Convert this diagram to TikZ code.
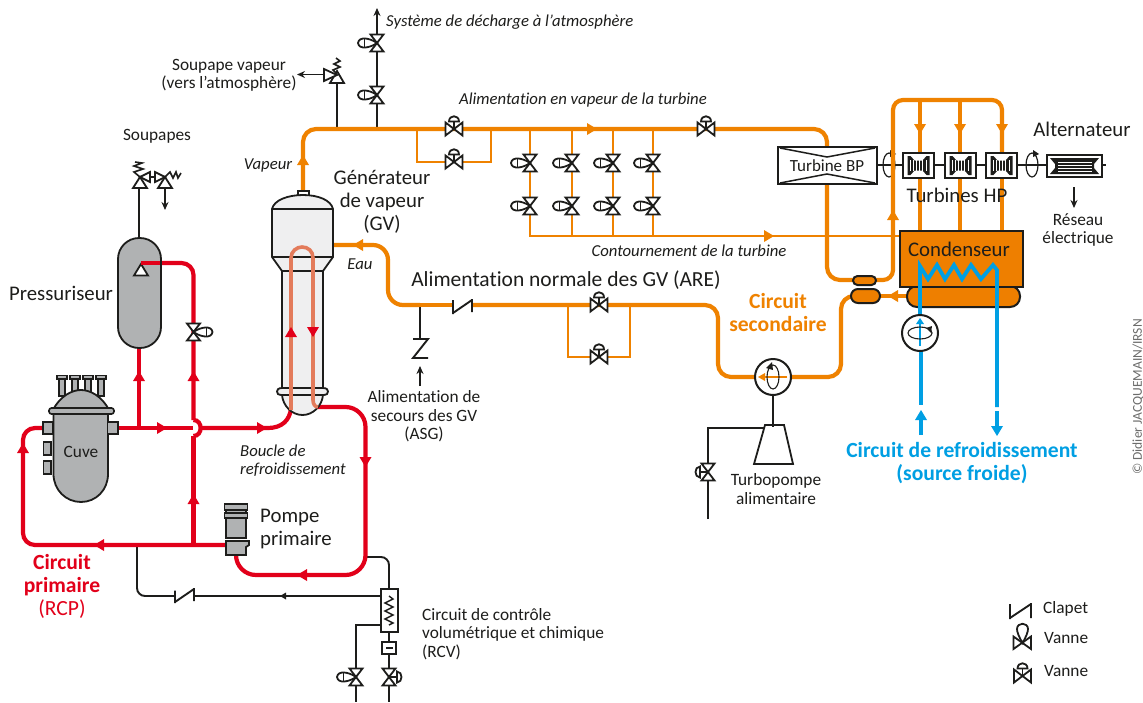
\documentclass[tikz,border=0pt]{standalone}
\usepackage{fontspec}
\setmainfont[Ligatures=NoCommon]{Carlito}
\usetikzlibrary{arrows.meta}
\definecolor{rouge}{HTML}{E2001A}
\definecolor{orangec}{HTML}{EF8200}
\definecolor{orangef}{HTML}{EE7F00}
\definecolor{bleu}{HTML}{009FE3}
\definecolor{gris}{HTML}{B0B2B3}
\definecolor{grisc}{HTML}{EFEFF0}
\definecolor{saumon}{HTML}{E37B5B}
\definecolor{encre}{HTML}{1D1D1B}
\newcommand\aup[3]{\fill[#3] (#1-6,#2+5)--(#1,#2-5)--(#1+6,#2+5)--cycle;}
\newcommand\adn[3]{\fill[#3] (#1-6,#2-5)--(#1,#2+5)--(#1+6,#2-5)--cycle;}
\newcommand\alf[3]{\fill[#3] (#1+5,#2-6)--(#1-5,#2)--(#1+5,#2+6)--cycle;}
\newcommand\art[3]{\fill[#3] (#1-5,#2-6)--(#1+5,#2)--(#1-5,#2+6)--cycle;}
\tikzset{
  x=1pt,y=-1pt,
  sym/.style={draw=encre,line width=1.8pt,fill=white,line join=miter},
  tubeo/.style={draw=orangec,line width=4.2pt,rounded corners=10pt},
  tubeof/.style={draw=orangec,line width=2.2pt},
  tuber/.style={draw=rouge,line width=4.2pt,rounded corners=12pt},
  tubeb/.style={draw=bleu,line width=4.2pt},
  tuben/.style={draw=encre,line width=1.9pt,rounded corners=8pt},
  petit/.style={font=\fontsize{17.3}{18.5}\selectfont,text=encre,align=center,inner sep=0pt},
  petiti/.style={font=\itshape\fontsize{16.7}{18.5}\selectfont,text=encre,align=left,inner sep=0pt},
  grand/.style={font=\fontsize{20.8}{23}\selectfont,text=encre,align=center,inner sep=0pt},
  gras/.style={font=\bfseries\fontsize{21.6}{23}\selectfont,align=center,inner sep=0pt},
  vdome/.pic={
    \path[sym] (-8.5,-6.5)--(8.5,6.5)--(8.5,-6.5)--(-8.5,6.5)--cycle;
    \path[sym] (0,0)--(0,-7);
    \path[sym] (-5,-7.5)..controls (-5,-14.5) and (5,-14.5)..(5,-7.5)--cycle;
  },
  vpoig/.pic={
    \path[sym] (-6.5,-8.5)--(6.5,-8.5)--(-6.5,8.5)--(6.5,8.5)--cycle;
    \path[sym] (0,0)..controls (-7,-5) and (-18,-7)..(-19,0)..controls (-18,7) and (-7,5)..(0,0)--cycle;
    \draw[encre,line width=1pt] (-13,-4)--(-13,4);
  },
  vpoigd/.pic={
    \path[sym] (-6.5,-8.5)--(6.5,-8.5)--(-6.5,8.5)--(6.5,8.5)--cycle;
    \path[sym] (0,0)--(7,0);
    \path[sym] (8,-5.5)..controls (14,-5.5) and (14,5.5)..(8,5.5)--cycle;
  },
  vpoigc/.pic={
    \path[sym] (-6.5,-8.5)--(6.5,-8.5)--(-6.5,8.5)--(6.5,8.5)--cycle;
    \path[sym] (0,0)--(-7,0);
    \path[sym] (-8,-5.5)..controls (-14,-5.5) and (-14,5.5)..(-8,5.5)--cycle;
  },
  hpt/.pic={
    \draw[fill=white,draw=encre,line width=2.4pt] (-15.5,-12.5) rectangle (15.5,12.5);
    \fill[encre] (-11,-9.5)--(-8,-9.5)--(-4,-5)--(4,-5)--(8,-9.5)--(11,-9.5)--(11,9.5)--(8,9.5)--(4,5)--(-4,5)--(-8,9.5)--(-11,9.5)--cycle;
    \foreach \xx in {-8.5,-5,-2,1,4,7.5} \draw[white,line width=.8pt] (\xx,-5.5)--(\xx,5.5);
  },
  rotv/.pic={
    \draw[encre,line width=1.2pt] (0,0) ellipse [x radius=6,y radius=12];
    \fill[encre] (1,-15)--(7,-11)--(1,-8)--cycle;
  }
}
\begin{document}
\begin{tikzpicture}
\useasboundingbox (0,0) rectangle (1143,702);
\fill[white] (0,0) rectangle (1143,702);

\coordinate (gvtop) at (303,191);
\coordinate (gveau) at (333,245);
\coordinate (tbpT) at (827,147);
\coordinate (tbpB) at (827,184);
\coordinate (ech1L) at (853,280);
\coordinate (ech1R) at (876,280);
\coordinate (ech2L) at (851,296);
\coordinate (ech2R) at (880,296);
\coordinate (hotw) at (907,296);
\coordinate (ppL) at (755,377);
\coordinate (ppR) at (791,377);
\coordinate (pzrB) at (139,348);
\coordinate (cuveR) at (118,428);
\coordinate (cuveL) at (43,428);
\coordinate (pompeL) at (226,545);
\coordinate (pompeB) at (236,556);

% thin black lines
\draw[tuben] (137,545)--(137,596)--(175,596);
\draw[tuben,rounded corners=0] (194,596)--(381,596);
\fill[encre] (280,596)--(286,592.5)--(286,599.5)--cycle;
\draw[tuben] (367,557)--(389,557)--(389,589);
\draw[tuben,rounded corners=0] (381,625)--(356,625)--(356,702);
\draw[tuben,rounded corners=0] (389,632)--(389,702);
\draw[tuben,rounded corners=0] (139,238)--(139,180);
\draw[tuben,rounded corners=0] (337,129)--(337,80);
\draw[tuben,rounded corners=0] (377,129)--(377,14);
\draw[encre,line width=1.9pt,-{Stealth[length=8pt,width=7pt]}] (377,30)--(377,8);
\draw[tuben,rounded corners=0] (420,305)--(420,339);
\draw[encre,line width=1.9pt,-{Stealth[length=8pt,width=7pt]}] (420,386)--(420,366);
\draw[tuben,rounded corners=0] (708,519)--(708,428)--(765,428);

% shaft and rotation symbol left of the HP turbines, under the pipe
\draw[encre,line width=1.9pt] (877,165)--(903,165);
\pic at (889,165) {rotv};

% orange thin
\draw[tubeof] (417,129)--(417,162)--(491,162)--(491,129);
\draw[tubeof] (568,305)--(568,357)--(630,357)--(630,305);
\draw[tubeof] (530,129)--(530,236)--(900,236);
\draw[tubeof] (572,129)--(572,236);
\draw[tubeof] (613,129)--(613,236);
\draw[tubeof] (653,129)--(653,236);
\art{769}{236}{orangec}

% orange main
\draw[tubeo,rounded corners=13pt] (gvtop)--(303,129)--(827,129)--(tbpT);
\draw[tubeo,rounded corners=13pt] (tbpB)--(827,280)--(ech1L);
\draw[tubeo] (ech1R)--(893,280)--(893,100)--(1002,100)--(1002,155);
\draw[tubeo,rounded corners=0] (920,100)--(920,155);
\draw[tubeo,rounded corners=0] (960,100)--(960,155);
\draw[tubeo,rounded corners=0] (920,176)--(920,232);
\draw[tubeo,rounded corners=0] (960,176)--(960,232);
\draw[tubeo,rounded corners=0] (1002,176)--(1002,232);
\adn{920}{129}{orangec}\adn{960}{129}{orangec}\adn{1002}{129}{orangec}
\aup{893}{215}{orangec}
\aup{303}{160}{orangec}
\art{592}{129}{orangec}
\draw[tubeo,rounded corners=0] (hotw)--(ech2R);
\alf{893}{296}{orangec}
\draw[tubeo,rounded corners=13pt] (ech2L)--(841,296)--(841,377)--(ppR);
\draw[tubeo,rounded corners=13pt] (ppL)--(718,377)--(718,305)--(472,305);
\draw[tubeo,rounded corners=0] (453,305)--(420,305);
\draw[tubeo,rounded corners=15pt] (420,305)--(388,305)--(388,245)--(gveau);
\alf{358}{245}{orangec}

% red
\draw[tuber] (cuveL)--(23,428)--(23,545)--(pompeL);
\draw[tuber,rounded corners=0] (cuveR)--(193,428);
\draw[tuber,rounded corners=0] (pzrB)--(139,428);
\draw[tuber,rounded corners=0] (193.5,545)--(193.5,436);
\draw[rouge,line width=4.2pt] (193.5,420) .. controls (203,420) and (203,436) .. (193.5,436);
\draw[tuber] (141,263)--(193.5,263)--(193.5,420);
\draw[rouge,line width=4.2pt] (199,428)--(268,428) .. controls (282,428) and (290,420) .. (291,408);
\draw[tuber,rounded corners=20pt] (316,407)--(365.5,407)--(365.5,575)--(236,575)--(pompeB);
\aup{139}{376}{rouge}\aup{193.5}{376}{rouge}
\aup{23}{448}{rouge}\aup{193.5}{499}{rouge}
\art{162}{428}{rouge}\art{262}{428}{rouge}
\adn{365.5}{462}{rouge}
\alf{99}{545}{rouge}\alf{302}{575}{rouge}

% steam generator
\path[sym] (298,195)--(298,191)--(309,191)--(309,195);
\path[draw=encre,line width=1.8pt,fill=grisc] (272,209)..controls (274,200) and (288,195)..(303,195)..controls (318,195) and (331,200)..(333,209)--(333,257)--(323,271)--(323,388)..controls (327,388) and (328,390)..(328,391.5)..controls (328,393.5) and (327,395)..(323,395)..controls (322,406) and (313,415)..(302.5,415)..controls (292,415) and (283,406)..(282,395)..controls (278,395) and (277,393.5)..(277,391.5)..controls (277,390) and (278,388)..(282,388)--(282,271)--(272,257)--cycle;
\draw[encre,line width=1.8pt] (272,209)--(333,209) (272,257)--(333,257) (282,271)--(323,271) (282,388)--(323,388) (282,395)--(323,395);
\draw[saumon,line width=3.6pt] (291,410)--(291,258)..controls (291,251) and (297,247)..(302,247)..controls (308,247) and (313,251)..(313,258)--(313,400)..controls (313,404) and (315,407)..(318,407);
\aup{291}{332}{rouge}\adn{313}{332}{rouge}

% pressuriser
\node[draw=encre,line width=1.8pt,fill=gris,minimum width=43pt,minimum height=110pt,rounded corners=21pt,inner sep=0] (pzr) at (139.5,293) {};
\path[sym] (141,264)--(134,275.5)--(148,275.5)--cycle;
\draw[rouge,line width=4.2pt,line cap=butt] (141,263)--(160,263);
\pic[xscale=-1] at (193.5,332) {vpoig};

% vessel
\foreach \xx in {62,75,88,101} {
  \draw[draw=encre,line width=1.6pt,fill=gris] (\xx-3,378) rectangle (\xx+3,396);
  \draw[draw=encre,line width=1.6pt,fill=gris] (\xx-5,375.5) rectangle (\xx+5,379);
}
\path[draw=encre,line width=1.8pt,fill=gris] (53,410)..controls (60,396) and (72,390)..(81,390)..controls (90,390) and (102,396)..(109,410)--cycle;
\path[draw=encre,line width=1.8pt,fill=gris] (53.5,411)--(53.5,474)..controls (53.5,490) and (66,502)..(81,502)..controls (96,502) and (108,490)..(108,474)--(108,411)--cycle;
\draw[draw=encre,line width=1.6pt,fill=gris,rounded corners=2.5pt] (49,408) rectangle (114,414);
\draw[sym,fill=gris] (43,422) rectangle (53,434);
\draw[sym,fill=gris] (107.5,422) rectangle (118,434);
\draw[sym,fill=gris] (43.5,442) rectangle (51,455);
\draw[sym,fill=gris] (43.5,461) rectangle (51,474);

% primary pump
\draw[sym,fill=gris] (226,510) rectangle (246,538);
\draw[sym,fill=gris] (224.5,504) rectangle (247.5,510);
\draw[sym,fill=gris] (224.5,513) rectangle (247.5,518);
\path[sym,fill=gris] (226,541)--(249,541)--(249,545)--(246,547)--(246,555)--(226,555)--cycle;

% RCV exchanger
\draw[sym] (381,589) rectangle (398,632);
\draw[encre,line width=1.4pt] (389,596)--(393,599)--(385,603)--(393,607)--(385,611)--(393,615)--(385,619)--(393,623)--(389,625);
\draw[sym] (382,642) rectangle (396,654);
\fill[encre] (385.5,647) rectangle (392.5,649);
\pic at (356,677) {vpoig};
\pic at (389,677) {vpoigd};

% check valves
\draw[encre,line width=1.9pt] (175,603)--(175,590.5)  (175,602)--(194,589) (194,588)--(194,601);
\draw[encre,line width=1.9pt] (453,300)--(453,314) (453,313)--(472,300) (472,299)--(472,312);
\draw[encre,line width=1.9pt] (413,339)--(428,339)--(413,358)--(428,358);

% steam valves
\pic at (454,129) {vdome};
\pic at (454,162) {vdome};
\pic at (706,129) {vdome};
\pic at (599,305) {vdome};
\pic at (599,357) {vdome};
\foreach \xx in {530,572,613,653} {\pic at (\xx,163) {vpoig}; \pic at (\xx,206) {vpoig};}
\pic at (377,43) {vpoig};
\pic at (377,95) {vpoig};
\pic at (708,472) {vpoigc};

% relief valves
\path[sym] (337,71)--(330,83)--(344,83)--cycle;
\path[sym] (337,75)--(324,69)--(324,81)--cycle;
\draw[encre,line width=1.6pt] (337,74)--(333,70)--(340,67)--(334,64)--(340,61)--(336,58);
\draw[encre,line width=1.9pt,-{Stealth[length=8pt,width=7pt]}] (324,74.5)--(297,74.5);
\path[sym] (140,177)--(133,188)--(147,188)--cycle;
\path[sym] (140,177)--(150,172)--(150,182)--cycle;
\draw[encre,line width=1.9pt] (150,177)--(155,177);
\path[sym] (165,177)--(158,188)--(172,188)--cycle;
\path[sym] (165,177)--(155,172)--(155,182)--cycle;
\draw[encre,line width=1.6pt] (140,177)--(134,172)--(143,169)--(134,166)--(142,163)--(135,162);
\draw[encre,line width=1.6pt] (165,177)--(170,172)--(173,178)--(176,172)--(178,178)--(181,173);
\draw[encre,line width=1.9pt,-{Stealth[length=8pt,width=7pt]}] (165,188)--(165,210);

% LP turbine, HP turbines, alternator
\node[draw=encre,line width=2pt,fill=white,minimum width=99pt,minimum height=37pt,inner sep=0] (tbp) at (827.5,165.5) {};
\draw[encre,line width=1.5pt] (780,148)--(827,157)--(875,148);
\draw[encre,line width=1.5pt] (780,183)--(827,174)--(875,183);
\draw[encre,line width=1.9pt] (934,165)--(945,165) (976,165)--(986,165) (1017,165)--(1047,165) (1102,165)--(1106,165);
\pic at (1032,165) {rotv};
\pic at (918.5,165.5) {hpt};
\pic at (960.5,165.5) {hpt};
\pic at (1001.5,165.5) {hpt};
\draw[draw=encre,line width=2.4pt,fill=white] (1047,155) rectangle (1102,177);
\fill[encre] (1050,158)--(1099,158)--(1094,164)--(1094,168)--(1099,174)--(1050,174)--(1055,168)--(1055,164)--cycle;
\foreach \yy in {162,165,168,171} \draw[white,line width=.7pt] (1058,\yy)--(1092,\yy);
\draw[encre,line width=1.9pt,-{Stealth[length=8pt,width=7pt]}] (1074,187)--(1074,208);

% condenser
\draw[draw=encre,line width=2pt,fill=orangef,rounded corners=10pt] (907,286) rectangle (1020,307);
\draw[draw=encre,line width=2pt,fill=orangef] (900,231) rectangle (1023,287);
\draw[draw=encre,line width=2pt,fill=orangef,rounded corners=4.5pt] (853,276) rectangle (876,285);
\draw[draw=encre,line width=2pt,fill=orangef,rounded corners=7pt] (851,289) rectangle (880,303);

% blue
\draw[bleu,line width=3.8pt,line join=miter] (920,350)--(920,266)--(928,279)--(937,265)--(945,279)--(954,265)--(962,279)--(971,265)--(981,279)--(993,265)--(997,270)--(997,407);
\draw[bleu,line width=4.2pt] (921,351)--(921,405);
\node[draw=encre,line width=2pt,fill=white,circle,minimum size=36pt,inner sep=0] (pcirc) at (920,333) {};
\draw[bleu,line width=1.8pt] (920,346)--(920,322);
\fill[bleu] (916,324)--(920,318)--(924,324)--cycle;
\draw[encre,line width=1.1pt] (920,333) ellipse [x radius=12,y radius=6];
\fill[encre] (926,328)--(932,326)--(931,333)--cycle;
\draw[bleu,line width=4.2pt] (921,435)--(921,418);
\aup{921}{415}{bleu}
\draw[bleu,line width=4.2pt] (997,411)--(997,428);
\adn{997}{431}{bleu}

% feed pump
\node[draw=encre,line width=2pt,fill=white,circle,minimum size=36pt,inner sep=0] (pali) at (773,377) {};
\draw[orangec,line width=1.8pt] (787,377)--(762,377);
\fill[orangec] (758,377)--(765,373)--(765,381)--cycle;
\draw[encre,line width=1.1pt] (773,377) ellipse [x radius=6,y radius=12];
\fill[encre] (766,368)--(772,362)--(773,370)--cycle;
\path[sym] (765,425)--(784,425)--(793,464)--(754,464)--cycle;
\draw[encre,line width=2.4pt] (pali.south)--(773,427);

% legend
\draw[encre,line width=1.9pt] (1010,619)--(1010,604) (1010,618)--(1031,604) (1031,603)--(1031,618);
\path[sym] (1013.5,636.5)--(1031,649)--(1031,636.5)--(1013.5,649)--cycle;
\path[sym] (1022.5,643)..controls (1019,637) and (1017,632)..(1017,629)..controls (1017,622) and (1028,622)..(1028,629)..controls (1028,632) and (1026,637)..(1022.5,643)--cycle;
\pic at (1022.5,676) {vdome};

% texts
\node[petiti,anchor=west] (t1) at (386,22) {Système de décharge à l’atmosphère};
\node[petit] (t2) at (229,75.5) {Soupape vapeur\\(vers l’atmosphère)};
\node[petiti,anchor=center] (t3) at (583,100) {Alimentation en vapeur de la turbine};
\node[petit] (t4) at (157,136) {Soupapes};
\node[petiti,anchor=center] (t5) at (268,165) {Vapeur};
\node[grand] (t6) at (382,201.5) {Générateur\\de vapeur\\(GV)};
\node[petiti,anchor=center] (t7) at (360,264) {Eau};
\node[grand] (t8) at (61,293) {Pressuriseur};
\node[petiti,anchor=center] (t9) at (689,251) {Contournement de la turbine};
\node[grand,font=\fontsize{21.5}{23}\selectfont] (t10) at (566,280) {Alimentation normale des GV (ARE)};
\node[gras,text=orangec] (t11) at (778,312.5) {Circuit\\secondaire};
\node[petit] (t12) at (424,416.5) {Alimentation de\\secours des GV\\(ASG)};
\node[petit] (t13) at (81,452) {Cuve};
\node[petiti,anchor=west] (t14) at (240,460.5) {Boucle de\\refroidissement};
\node[grand,align=left,anchor=west] (t15) at (260,528.5) {Pompe\\primaire};
\node[gras,text=rouge] (t16) at (62,586) {Circuit\\primaire\\\normalfont(RCP)};
\node[petit,align=left,anchor=west] (t17) at (422,634) {Circuit de contrôle\\volumétrique et chimique\\(RCV)};
\node[petit] (t18) at (776,489) {Turbopompe\\alimentaire};
\node[gras,text=bleu] (t19) at (962,463.5) {Circuit de refroidissement\\(source froide)};
\node[petit,font=\fontsize{17}{18}\selectfont] (t21) at (827,166) {Turbine BP};
\node[grand] (t22) at (957,195) {Turbines HP};
\node[grand] (t23) at (959,249) {Condenseur};
\node[grand] (t24) at (1082,129) {Alternateur};
\node[petit] (t25) at (1078,230) {Réseau\\électrique};
\node[petit,anchor=west] (t26) at (1043,609) {Clapet};
\node[petit,anchor=west] (t27) at (1044,638) {Vanne};
\node[petit,anchor=west] (t28) at (1044,671) {Vanne};
\node[rotate=90,font=\fontsize{13.5}{15}\selectfont,text=encre!65,inner sep=0] (t29) at (1138,397) {© Didier JACQUEMAIN/IRSN};
\end{tikzpicture}
\end{document}
